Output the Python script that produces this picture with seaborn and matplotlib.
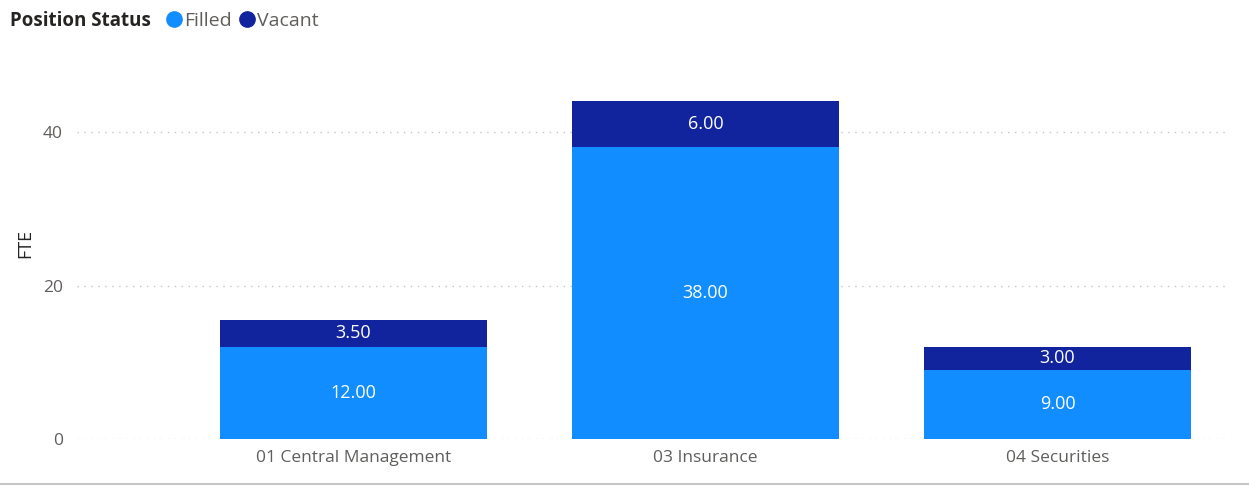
import matplotlib
matplotlib.use("Agg")
import matplotlib.pyplot as plt
import seaborn as sns
import pandas as pd
from matplotlib.lines import Line2D

categories = ["01 Central Management", "03 Insurance", "04 Securities"]
filled = [12.00, 38.00, 9.00]
vacant = [3.50, 6.00, 3.00]

C_FILLED = "#118DFF"
C_VACANT = "#12239E"

sns.set_theme(style="white")
plt.rcParams["font.family"] = ["Open Sans", "DejaVu Sans"]

df = pd.DataFrame({"cat": categories, "filled": filled, "vacant": vacant})
df["total"] = df["filled"] + df["vacant"]

W, H = 1249, 487
fig = plt.figure(figsize=(W / 100, H / 100), dpi=100)
ax = fig.add_axes([77 / W, 1 - 439 / H, (1230 - 77) / W, (439 - 86) / H])

sns.barplot(data=df, x="cat", y="total", color=C_VACANT, width=0.757,
            saturation=1, ax=ax, zorder=3, linewidth=0)
sns.barplot(data=df, x="cat", y="filled", color=C_FILLED, width=0.757,
            saturation=1, ax=ax, zorder=4, linewidth=0)

for i, (f, v) in enumerate(zip(filled, vacant)):
    ax.text(i, f / 2, f"{f:.2f}", ha="center", va="center", color="white",
            fontsize=13, zorder=5)
    ax.text(i, f + v / 2, f"{v:.2f}", ha="center", va="center", color="white",
            fontsize=13, zorder=5)

ax.set_xlim(-0.785, 2.49)
ax.set_ylim(0, 46)
ax.set_yticks([0, 20, 40])
ax.yaxis.grid(True, color="#C8C6C4", linestyle=(0, (1, 4)), linewidth=1)
ax.set_axisbelow(True)
for s in ax.spines.values():
    s.set_visible(False)
ax.tick_params(axis="both", length=0, labelsize=12.5, colors="#605E5C", pad=8)
ax.tick_params(axis="y", pad=10)
ax.set_xlabel("")
ax.set_ylabel("FTE", fontsize=13, color="#252423")
ax.yaxis.set_label_coords(25 / W, 1 - 243 / H, transform=fig.transFigure)
ax.yaxis.label.set_va("center")

# legend
fig.text(10 / W, 1 - 21 / H, "Position Status", fontsize=13.5, fontweight="bold",
         color="#252423", va="center", ha="left")
handles = [Line2D([], [], marker="o", linestyle="", markersize=11, color=C_FILLED),
           Line2D([], [], marker="o", linestyle="", markersize=11, color=C_VACANT)]
fig.legend(handles, ["Filled", "Vacant"], loc="center left",
           bbox_to_anchor=(163 / W, 1 - 21 / H), ncol=2, frameon=False,
           handletextpad=0.0, columnspacing=0.2, handlelength=1.1,
           prop={"size": 14}, labelcolor="#605E5C", borderpad=0, borderaxespad=0)

# bottom rule
fig.add_artist(Line2D([0, 1], [1 - 484 / H, 1 - 484 / H], color="#C8C6C4",
                      linewidth=1.5, transform=fig.transFigure))

fig.savefig("out.png", dpi=100)
